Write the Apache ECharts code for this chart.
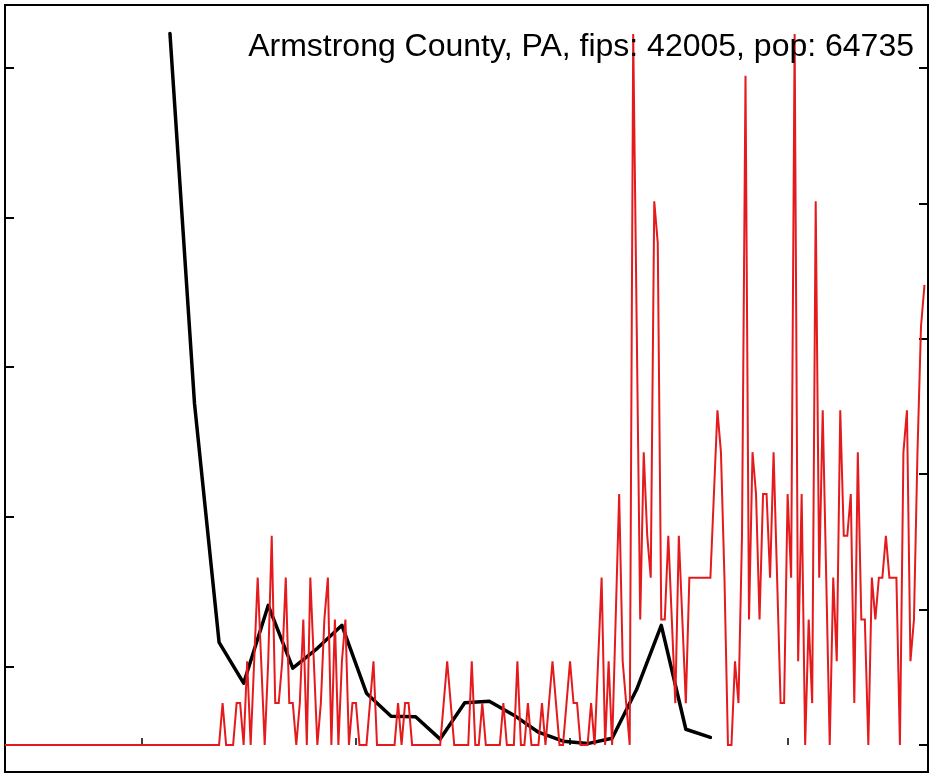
<!DOCTYPE html>
<html>
<head>
<meta charset="utf-8">
<script src="https://cdn.jsdelivr.net/npm/echarts@6/dist/echarts.min.js"></script>
<style>html,body{margin:0;padding:0;background:#fff}#c{width:933px;height:774px}</style>
</head>
<body>
<div id="c"></div>
<script>
// ---- data ----
const chartTitle = 'Armstrong County, PA, fips: 42005, pop: 64735';
const population = 64735;
const startDate = '2020-01-22'; // day 0

// daily new cases, one value per day starting at startDate
const dailyCases = [
  0,0,0,0,0,0,0,0,0,0,
  0,0,0,0,0,0,0,0,0,0,
  0,0,0,0,0,0,0,0,0,0,
  0,0,0,0,0,0,0,0,0,0,
  0,0,0,0,0,0,0,0,0,0,
  0,0,0,0,0,0,0,0,0,0,
  0,0,1,0,0,0,1,1,0,2,
  0,2,4,2,0,2,5,1,1,2,
  4,1,1,0,1,3,0,4,2,0,
  1,3,4,0,3,0,2,3,0,1,
  1,0,0,0,1,2,0,0,0,0,
  0,0,1,0,1,1,0,0,0,0,
  0,0,0,0,0,1,2,1,0,0,
  0,0,0,2,0,0,1,0,0,0,
  0,0,1,0,0,0,2,0,0,1,
  0,0,0,1,0,1,2,1,0,0,
  1,2,1,1,0,0,0,1,0,2,
  4,0,2,0,3,6,2,1,0,17,
  10,3,7,5,4,13,12,3,3,5,
  3,1,5,3,1,4,4,4,4,4,
  4,4,6,8,7,4,0,0,2,1,
  5,16,3,7,6,3,6,6,4,7,
  4,1,1,6,4,17,2,6,0,3,
  1,13,4,8,4,0,4,2,8,5,
  5,6,1,7,3,3,0,4,3,4,
  4,5,4,4,4,0,7,8,2,3,
  7,10,11
];

// weekly series (black), day index of each point and its value (left axis)
const weekDays = [47,54,61,68,75,82,89,96,103,110,117,124,131,138,145,152,159,166,173,180,187,194,201];
const weeklyValues = [5.232,2.756,1.160,0.887,1.407,0.987,1.120,1.274,0.820,0.666,0.663,0.513,0.756,0.766,0.673,0.559,0.499,0.483,0.519,0.846,1.274,0.579,0.524];

// tick positions
const xTickDays = [39, 100, 161, 223];       // Mar 1, May 1, Jul 1, Sep 1
const leftTicks = [1, 2, 3, 4, 5];
const rightTicks = [0, 5, 10, 15, 20, 25];   // cases per 100k

// ---- chart ----
const chart = echarts.init(document.getElementById('c'), null, {renderer: 'canvas'});
const redData = dailyCases.map((c, i) => [i, c * 100000 / population]);
const blackData = weekDays.map((d, i) => [d, weeklyValues[i]]);

const hidden = {axisLine: {show: false}, splitLine: {show: false}, axisLabel: {show: false}};

chart.setOption({
  animation: false,
  backgroundColor: '#fff',
  title: {
    text: chartTitle,
    right: 19,
    top: 31,
    padding: 0,
    textStyle: {fontFamily: '"Liberation Sans", Arial, sans-serif', fontSize: 32, fontWeight: 'normal', color: '#000'}
  },
  grid: {left: 5, right: 5, top: 5, bottom: 2, show: true, borderColor: '#000', borderWidth: 2, backgroundColor: 'transparent'},
  xAxis: Object.assign({
    type: 'value', min: 0, max: 263,
    axisTick: {show: true, inside: true, length: 7, customValues: xTickDays, lineStyle: {color: '#000', width: 1.5}}
  }, hidden),
  yAxis: [
    Object.assign({
      type: 'value', position: 'left', min: 0.293, max: 5.422,
      axisTick: {show: true, inside: true, length: 9, customValues: leftTicks, lineStyle: {color: '#000', width: 2}}
    }, hidden),
    Object.assign({
      type: 'value', position: 'right', min: -1.0, max: 27.33,
      axisTick: {show: true, inside: true, length: 9, customValues: rightTicks, lineStyle: {color: '#000', width: 2}}
    }, hidden)
  ],
  series: [
    {
      type: 'line', yAxisIndex: 0, data: blackData, symbol: 'none', z: 2,
      lineStyle: {color: '#000', width: 3.5, join: 'round', cap: 'round'}
    },
    {
      type: 'line', yAxisIndex: 1, data: redData, symbol: 'none', z: 3,
      lineStyle: {color: '#E41A1C', width: 2, join: 'miter', cap: 'butt'}
    }
  ]
});
</script>
</body>
</html>
